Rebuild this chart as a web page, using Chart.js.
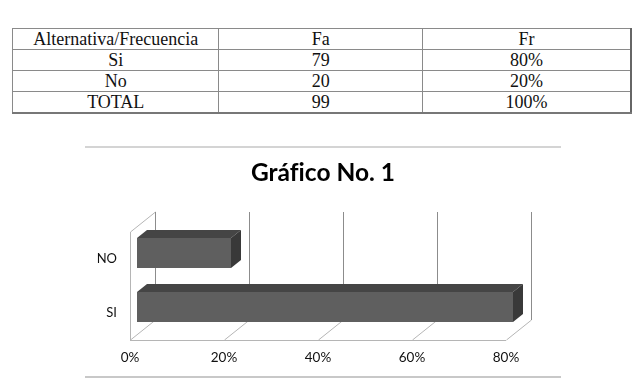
<!DOCTYPE html>
<html>
<head>
<meta charset="utf-8">
<script src="https://cdn.jsdelivr.net/npm/chart.js@4"></script>
<style>
  body { margin: 0; background: #fff; width: 635px; height: 389px; position: relative; overflow: hidden; }
  #tabla {
    position: absolute; left: 12px; top: 28px; width: 620px;
    border-collapse: collapse; font-family: "Liberation Serif", serif; font-size: 18px; color: #111;
  }
  #tabla td { border: 1px solid #8a8a8a; text-align: center; height: 20px; padding: 0; line-height: 20px; }
  #tabla td:last-child { border-right: 2px solid #666; }
  #tabla tr:last-child td { border-bottom: 2px solid #777; }
  #caja {
    position: absolute; left: 85px; top: 146px; width: 476px; height: 232px;
    border-top: 2px solid #d4d4d4; border-bottom: 2px solid #c8c8c8; box-sizing: border-box;
  }
  #caja canvas { position: absolute; left: 0; top: -2px; }
</style>
</head>
<body>
<table id="tabla"></table>
<div id="caja"><canvas id="grafico" width="476" height="232"></canvas></div>
<script>
// datos de la tabla
const encabezado = ['Alternativa/Frecuencia', 'Fa', 'Fr'];
const alternativas = ['Si', 'No', 'TOTAL'];
const frecAbs = [79, 20, 99];
const frecRel = ['80%', '20%', '100%'];

// datos del grafico
const categorias = ['SI', 'NO'];
const porcentajes = [80, 20];
const ticksX = [0, 20, 40, 60, 80];

const tabla = document.getElementById('tabla');
const anchos = [206, 205, 209];
let html = '<tr>' + encabezado.map((h, i) => `<td style="width:${anchos[i]}px">${h}</td>`).join('') + '</tr>';
alternativas.forEach((a, i) => {
  html += `<tr><td>${a}</td><td>${frecAbs[i]}</td><td>${frecRel[i]}</td></tr>`;
});
tabla.innerHTML = html;

// profundidad del efecto 3D
const PARED = { dx: 25, dy: -20 };
const BARRA_FRENTE = { dx: 7, dy: -6 };
const BARRA_FONDO = { dx: 10, dy: -8 };

const efecto3d = {
  id: 'efecto3d',
  afterLayout(chart) {
    // centrar el titulo sobre todo el lienzo
    const t = chart.titleBlock;
    if (t) { t.left = 0; t.right = chart.width; t.width = chart.width; }
  },
  beforeDatasetsDraw(chart) {
    const { ctx, chartArea: a, scales } = chart;
    const x = scales.x;
    ctx.save();
    ctx.lineWidth = 1;
    // pared izquierda
    ctx.strokeStyle = '#b5b5b5';
    ctx.beginPath();
    ctx.moveTo(a.left + 0.5, a.bottom);
    ctx.lineTo(a.left + 0.5, a.top);
    ctx.lineTo(a.left + PARED.dx + 0.5, a.top + PARED.dy);
    ctx.stroke();
    // piso
    ctx.beginPath();
    ctx.moveTo(a.left, a.bottom + 0.5);
    ctx.lineTo(a.right, a.bottom + 0.5);
    ticksX.forEach(v => {
      const px = Math.round(x.getPixelForValue(v)) + 0.5;
      ctx.moveTo(px, a.bottom);
      ctx.lineTo(px + PARED.dx, a.bottom + PARED.dy);
    });
    ctx.stroke();
    // lineas de cuadricula al fondo
    ctx.strokeStyle = '#8c8c8c';
    ctx.beginPath();
    ticksX.forEach(v => {
      const px = Math.round(x.getPixelForValue(v)) + PARED.dx + 0.5;
      ctx.moveTo(px, a.top + PARED.dy);
      ctx.lineTo(px, a.bottom + PARED.dy);
    });
    ctx.stroke();
    ctx.restore();
    ctx.save();
    ctx.translate(BARRA_FRENTE.dx, BARRA_FRENTE.dy);
  },
  afterDatasetsDraw(chart) {
    const { ctx } = chart;
    const meta = chart.getDatasetMeta(0);
    meta.data.forEach(bar => {
      const top = bar.y - bar.height / 2;
      const bottom = bar.y + bar.height / 2;
      const l = bar.base, r = bar.x;
      // cara superior
      ctx.fillStyle = '#454545';
      ctx.beginPath();
      ctx.moveTo(l, top);
      ctx.lineTo(l + BARRA_FONDO.dx, top + BARRA_FONDO.dy);
      ctx.lineTo(r + BARRA_FONDO.dx, top + BARRA_FONDO.dy);
      ctx.lineTo(r, top);
      ctx.closePath();
      ctx.fill();
      // cara lateral
      ctx.fillStyle = '#393939';
      ctx.beginPath();
      ctx.moveTo(r, top);
      ctx.lineTo(r + BARRA_FONDO.dx, top + BARRA_FONDO.dy);
      ctx.lineTo(r + BARRA_FONDO.dx, bottom + BARRA_FONDO.dy);
      ctx.lineTo(r, bottom);
      ctx.closePath();
      ctx.fill();
    });
    ctx.restore();
  }
};

new Chart(document.getElementById('grafico'), {
  type: 'bar',
  data: {
    labels: categorias,
    datasets: [{
      data: porcentajes,
      backgroundColor: '#5f5f5f',
      borderWidth: 0,
      barPercentage: 0.556,
      categoryPercentage: 1,
      clip: false
    }]
  },
  options: {
    indexAxis: 'y',
    responsive: false,
    animation: false,
    layout: { padding: { left: 0, right: 55, top: 0, bottom: 0 } },
    scales: {
      x: {
        min: 0,
        max: 80,
        afterFit: s => { s.height = 38; },
        grid: { display: false, drawTicks: false },
        border: { display: false },
        ticks: {
          stepSize: 20,
          padding: 10,
          color: '#111',
          font: { family: 'Lato', size: 13.5 },
          callback: v => v + '%'
        }
      },
      y: {
        reverse: true,
        afterFit: s => { s.width = 45; },
        grid: { display: false, drawTicks: false },
        border: { display: false },
        ticks: { padding: 13, color: '#111', font: { family: 'Lato', size: 13 } }
      }
    },
    plugins: {
      legend: { display: false },
      tooltip: { enabled: false },
      title: {
        display: true,
        text: 'Gráf\u200Cico No. 1',
        color: '#000',
        font: { family: 'Lato', size: 24.5, weight: 'bold', lineHeight: 1.2 },
        padding: { top: 12, bottom: 44.6 }
      }
    }
  },
  plugins: [efecto3d]
});
</script>
</body>
</html>
